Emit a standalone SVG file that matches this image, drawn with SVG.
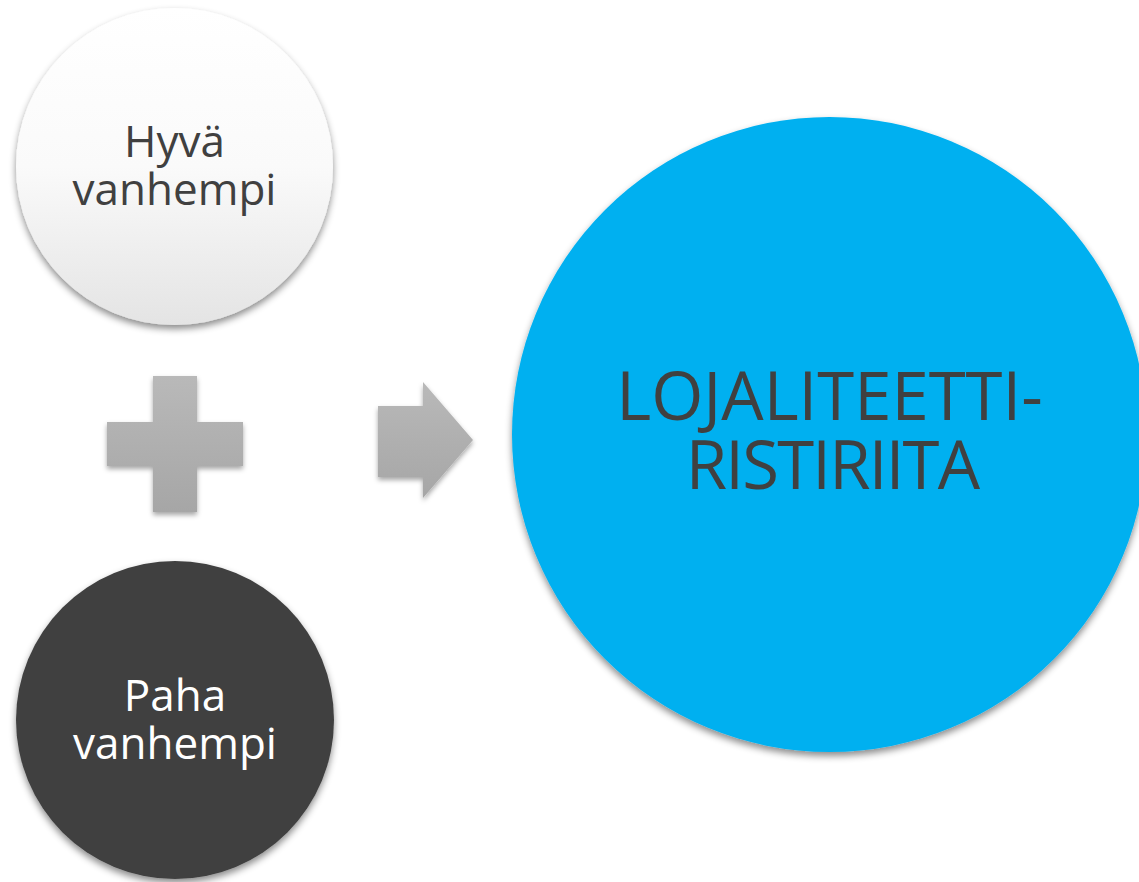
<svg xmlns="http://www.w3.org/2000/svg" width="1139" height="882" viewBox="0 0 1139 882">
  <defs>
    <linearGradient id="whiteGrad" x1="0" y1="0" x2="0" y2="1">
      <stop offset="0" stop-color="#ffffff"/>
      <stop offset="0.5" stop-color="#fafafa"/>
      <stop offset="1" stop-color="#e4e4e4"/>
    </linearGradient>
    <linearGradient id="grayGrad" x1="0" y1="0" x2="0" y2="1">
      <stop offset="0" stop-color="#b9b9b9"/>
      <stop offset="1" stop-color="#a6a6a6"/>
    </linearGradient>
    <filter id="shadow" x="-10%" y="-10%" width="120%" height="125%">
      <feDropShadow dx="0" dy="4" stdDeviation="3.5" flood-color="#000000" flood-opacity="0.45"/>
    </filter>
    <filter id="shadowSmall" x="-15%" y="-15%" width="130%" height="135%">
      <feDropShadow dx="0" dy="3" stdDeviation="2.5" flood-color="#000000" flood-opacity="0.35"/>
    </filter>
  </defs>
  <style>
    .lbl { font-family: "Open Sans", "DejaVu Sans", sans-serif; text-anchor: middle; }
    .small { font-size: 44px; }
    .big { font-size: 67px; fill: #404040; }
    .dark { fill: #404040; }
    .light { fill: #ffffff; }
    .sym { fill: url(#grayGrad); filter: url(#shadowSmall); }
  </style>
  <rect x="0" y="0" width="1139" height="882" fill="#ffffff"/>

  <g id="node-hyva">
    <circle cx="174.5" cy="166.5" r="158.5" fill="url(#whiteGrad)" filter="url(#shadow)"/>
    <text class="lbl small dark"><tspan x="174.5" y="157">Hyvä</tspan><tspan x="174.5" y="205">vanhempi</tspan></text>
  </g>

  <g id="node-plus">
    <path class="sym" d="M153,376 H197 V422 H243 V466 H197 V512 H153 V466 H107 V422 H153 Z"/>
  </g>

  <g id="node-paha">
    <circle cx="175" cy="720" r="159" fill="#404040" filter="url(#shadow)"/>
    <text class="lbl small light"><tspan x="175" y="711">Paha</tspan><tspan x="175" y="759">vanhempi</tspan></text>
  </g>

  <g id="connectors">
    <path class="sym" d="M378,406 H423 V382 L473,440 L423,498 V477 H378 Z"/>
  </g>

  <g id="node-lojaliteetti">
    <circle cx="829.5" cy="434.5" r="317.5" fill="#00b0f0" filter="url(#shadow)"/>
    <text class="lbl big"><tspan x="829.5" y="420">LOJALITEETTI-</tspan><tspan x="832" y="489" letter-spacing="-1.8">RISTIRIITA</tspan></text>
  </g>
</svg>
